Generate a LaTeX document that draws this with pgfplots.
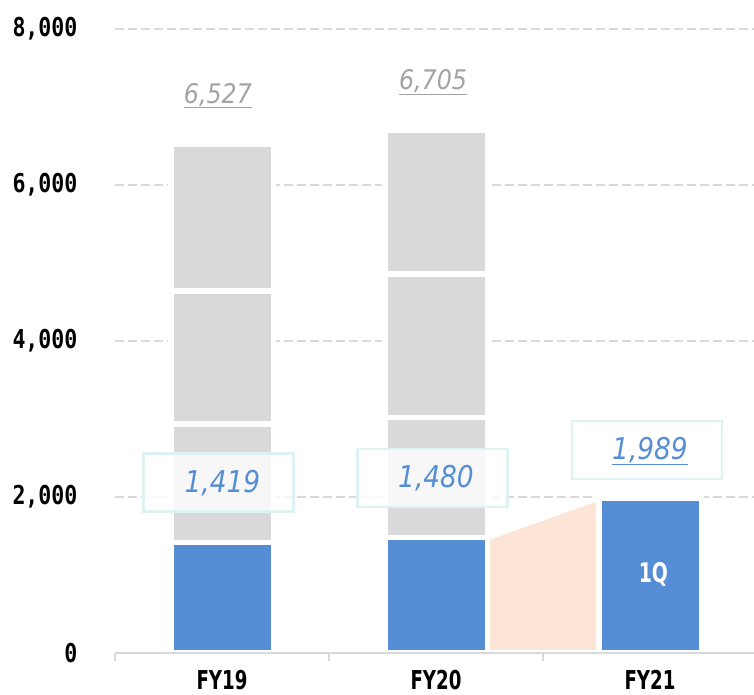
\documentclass[border=0pt]{standalone}
\usepackage{fontspec}
\usepackage{pgfplots}
\usepackage{pgfplotstable}
\pgfplotsset{compat=1.18}

\newfontfamily\tickfont{DejaVu Sans Mono}[FakeStretch=0.83]
\newfontfamily\catfont{DejaVu Sans}[FakeStretch=0.7]
\newfontfamily\lblfont{DejaVu Sans}[FakeStretch=0.88]

\definecolor{qblue}{HTML}{558ED5}
\definecolor{qgray}{HTML}{D9D9D9}
\definecolor{qpeach}{HTML}{FCE4D6}
\definecolor{lblgray}{HTML}{A3A3A3}
\definecolor{boxcyan}{HTML}{DDF2F2}

% quarterly sales, stacked (FY21 only 1Q so far)
\pgfplotstableread{
x q1 q2 q3 q4
0 1419 1517 1705 1886
1 1480 1539 1840 1846
2 1989 0 0 0
}\sales

\begin{document}
\begin{tikzpicture}
\pgfplotsset{
  base/.style={
    scale only axis, width=642pt, height=624pt,
    at={(115pt,42pt)}, anchor=south west,
    xmin=-0.5, xmax=2.5, ymin=0, ymax=8000,
  },
  segment/.style={draw=white, line width=5.5pt},
}

% background: grid, y labels, bridge area
\begin{axis}[base,
  axis x line=none,
  axis y line*=left,
  y axis line style={draw=none},
  ytick={0,2000,4000,6000,8000},
  major tick length=0pt,
  ymajorgrids,
  grid style={qgray, line width=1.8pt, dash pattern=on 9pt off 4pt},
  yticklabel style={font=\tickfont\bfseries\fontsize{26}{26}\selectfont,
    anchor=east, xshift=-34pt},
  /pgf/number format/1000 sep={,},
  /pgf/number format/assume math mode=true,
]
\addplot[fill=qpeach, segment] coordinates {(1.2395,1480) (1.7605,1989)} \closedcycle;
\end{axis}

% bars
\begin{axis}[base,
  ybar stacked, bar width=102.5pt,
  reverse stacked plots=false,
  axis on top,
  axis y line=none,
  axis x line*=bottom,
  x axis line style={qgray, line width=2pt},
  xtick={0,1,2}, xticklabels={FY19,FY20,FY21},
  major tick length=0pt,
  extra x ticks={-0.5,0.5,1.5,2.5}, extra x tick labels={},
  extra x tick style={major tick length=8pt, tick align=outside,
    tick style={qgray, line width=2pt}},
  xticklabel style={font=\catfont\bfseries\fontsize{26}{26}\selectfont,
    anchor=base, inner sep=0pt, yshift=-37pt},
]
\addplot[fill=qblue, segment] table[x=x, y=q1] {\sales};
\addplot[fill=qgray, segment] table[x=x, y=q2] {\sales};
\addplot[fill=qgray, segment] table[x=x, y=q3] {\sales};
\addplot[fill=qgray, segment] table[x=x, y=q4] {\sales};

% totals
\node[anchor=base, text=lblgray, font=\lblfont\itshape\fontsize{27}{27}\selectfont]
  at (axis cs:-0.019,7051) {\underline{6,527}};
\node[anchor=base, text=lblgray, font=\lblfont\itshape\fontsize{27}{27}\selectfont]
  at (axis cs:0.986,7218) {\underline{6,705}};

% 1Q boxes
\tikzset{qbox/.style={draw=boxcyan, line width=2.7pt, fill=white, fill opacity=0.8,
  minimum width=150pt, minimum height=58pt, inner sep=0pt}}
\node[qbox] at (axis cs:-0.016,2186) {};
\node[qbox] at (axis cs:0.984,2244) {};
\node[qbox] at (axis cs:1.986,2603) {};
\tikzset{qlbl/.style={anchor=base, text=qblue, font=\lblfont\itshape\fontsize{30}{30}\selectfont}}
\node[qlbl] at (axis cs:0.002,2064) {1,419};
\node[qlbl] at (axis cs:1.0,2128) {1,480};
\node[qlbl] at (axis cs:2.0,2487) {\underline{1,989}};

\node[text=white, font=\catfont\bfseries\fontsize{27}{27}\selectfont]
  at (axis cs:2.016,1006) {1Q};
\end{axis}

\pgfresetboundingbox
\useasboundingbox (0,0) rectangle (754pt,695pt);
\end{tikzpicture}
\end{document}
